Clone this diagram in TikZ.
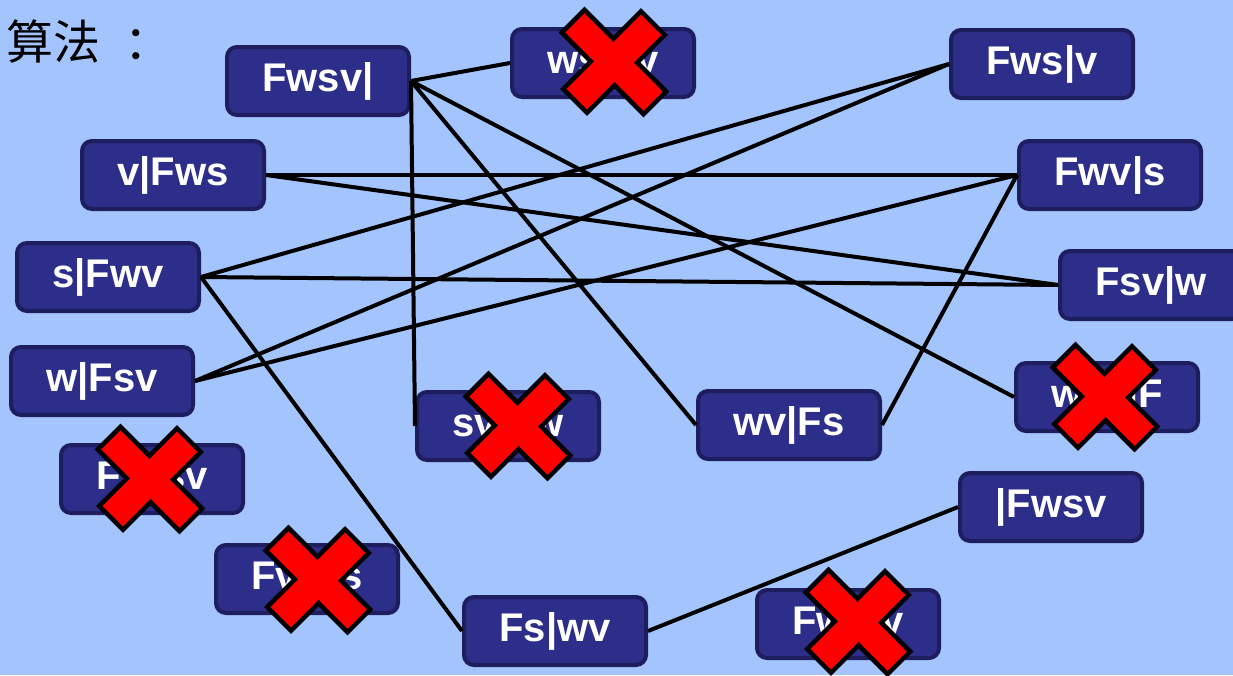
\documentclass[tikz,border=0pt]{standalone}
\usepackage{fontspec}
\setmainfont{Liberation Sans}
\newfontfamily\cjk{Noto Sans CJK SC}
\definecolor{bgblue}{RGB}{163,196,253}
\definecolor{boxfill}{RGB}{45,45,138}
\definecolor{boxedge}{RGB}{30,30,95}
\definecolor{xred}{RGB}{255,0,0}
\tikzset{
  state/.style={draw=boxedge, fill=boxfill, line width=4pt, rounded corners=10pt,
    minimum width=182pt, minimum height=68pt, inner sep=0pt, text=white,
    font=\fontsize{40}{40}\selectfont\bfseries},
  link/.style={line width=4pt, black},
  xmark/.style={fill=xred, draw=black, line width=4.5pt, line join=miter}
}
\newcommand{\crossat}[2]{%
  \draw[xmark, shift={(#1,#2)}, rotate=45, yscale=1.05]
    (-16,55) -- (16,55) -- (16,16) -- (55,16) -- (55,-16) -- (16,-16) --
    (16,-55) -- (-16,-55) -- (-16,-16) -- (-55,-16) -- (-55,16) -- (-16,16) -- cycle;}
\begin{document}
\begin{tikzpicture}[x=1pt,y=-1pt]
\fill[bgblue] (0,0) rectangle (1233,675);
\useasboundingbox (0,0) rectangle (1233,675);
\node[anchor=west, font=\cjk\fontsize{47}{47}\selectfont, text=black, inner sep=0pt] (title) at (6,42) {算法\hspace{24pt}：};

\node[state] (fwsv) at (318,81) {Fwsv|};
\node[state] (wsFv) at (603,63) {ws|Fv};
\node[state] (fwsv2) at (1042,64) {Fws|v};
\node[state] (vFws) at (173,175) {v|Fws};
\node[state] (fwvs) at (1110,175) {Fwv|s};
\node[state] (sFwv) at (108,277) {s|Fwv};
\node[state] (fsvw) at (1151,285) {Fsv|w};
\node[state] (wFsv) at (102,381) {w|Fsv};
\node[state] (svFw) at (508,426) {sv|Fw};
\node[state] (wvFs) at (789,425) {wv|Fs};
\node[state] (wsvF) at (1107,397) {wsv|F};
\node[state] (Fwsv) at (152,479) {F|wsv};
\node[state] (goal) at (1051,507) {|Fwsv};
\node[state] (fvws) at (307,579) {Fv|ws};
\node[state] (fswv) at (555,631) {Fs|wv};
\node[state] (fwsv3) at (848,624) {Fw|sv};

\draw[link] (fwsv.east) -- (wsFv.west);
\draw[link] (fwsv.east) -- (svFw.west);
\draw[link] (fwsv.east) -- (wvFs.west);
\draw[link] (fwsv.east) -- (wsvF.west);
\draw[link] (wvFs.east) -- (fwvs.west);
\draw[link] (fwvs.west) -- (vFws.east);
\draw[link] (fwvs.west) -- (wFsv.east);
\draw[link] (vFws.east) -- (fsvw.west);
\draw[link] (sFwv.east) -- (fwsv2.west);
\draw[link] (sFwv.east) -- (fsvw.west);
\draw[link] (sFwv.east) -- (fswv.west);
\draw[link] (wFsv.east) -- (fwsv2.west);
\draw[link] (fswv.east) -- (goal.west);

\crossat{614}{62}
\crossat{518}{426}
\crossat{1105}{397}
\crossat{150}{479}
\crossat{318}{580}
\crossat{858}{622}
\end{tikzpicture}
\end{document}
